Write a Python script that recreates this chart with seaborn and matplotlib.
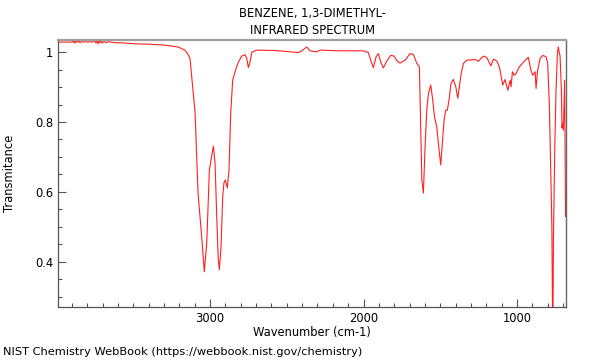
import matplotlib
matplotlib.use("Agg")
import matplotlib.pyplot as plt
import seaborn as sns
import pandas as pd
from matplotlib.ticker import MultipleLocator

title_lines = ["BENZENE, 1,3-DIMETHYL-", "INFRARED SPECTRUM"]
x_label = "Wavenumber (cm-1)"
y_label = "Transmitance"
footer = "NIST Chemistry WebBook (https://webbook.nist.gov/chemistry)"

wavenumber = [
    3990, 3944, 3899, 3892, 3886, 3879, 3873, 3866, 3860, 3853, 3847, 3834, 3821,
    3808, 3795, 3782, 3768, 3749, 3743, 3736, 3729, 3723, 3716, 3710, 3703, 3690,
    3677, 3664, 3619, 3573, 3488, 3391, 3293, 3208, 3163, 3143, 3130, 3110, 3097,
    3078, 3054, 3037, 3021, 3004, 2993, 2978, 2967, 2956, 2946, 2939, 2928, 2917,
    2909, 2900, 2887, 2876, 2865, 2852, 2837, 2815, 2793, 2772, 2761, 2750, 2739,
    2728, 2695, 2587, 2522, 2424, 2402, 2370, 2348, 2305, 2283, 2153, 2001, 1968,
    1953, 1936, 1918, 1903, 1888, 1871, 1849, 1823, 1801, 1780, 1762, 1729, 1697,
    1675, 1653, 1636, 1627, 1620, 1610, 1599, 1588, 1577, 1562, 1549, 1538, 1523,
    1510, 1497, 1486, 1475, 1464, 1454, 1443, 1430, 1415, 1399, 1386, 1376, 1364,
    1349, 1327, 1273, 1252, 1219, 1197, 1171, 1153, 1132, 1115, 1093, 1078, 1060,
    1045, 1039, 1030, 1019, 1006, 985, 947, 926, 910, 897, 882, 876, 867, 850, 832,
    811, 800, 789, 780, 773, 767, 763, 754, 746, 737, 731, 724, 720, 711, 707, 702,
    698, 690, 684,
]
transmittance = [
    1.029, 1.029, 1.029, 1.034, 1.026, 1.033, 1.027, 1.034, 1.029, 1.033, 1.027, 1.031, 1.029,
    1.030, 1.029, 1.030, 1.029, 1.033, 1.026, 1.034, 1.024, 1.033, 1.027, 1.034, 1.026, 1.031,
    1.027, 1.030, 1.027, 1.027, 1.024, 1.023, 1.020, 1.015, 1.006, 0.994, 0.982, 0.887, 0.826,
    0.597, 0.471, 0.371, 0.454, 0.663, 0.691, 0.731, 0.683, 0.529, 0.406, 0.377, 0.443, 0.586,
    0.626, 0.634, 0.611, 0.663, 0.826, 0.920, 0.944, 0.972, 0.989, 0.993, 0.983, 0.956, 0.972,
    1.000, 1.006, 1.005, 1.003, 0.999, 1.004, 1.015, 1.004, 1.001, 1.006, 1.004, 1.004, 0.999,
    0.977, 0.956, 0.987, 0.996, 0.972, 0.955, 0.974, 0.991, 0.989, 0.974, 0.969, 0.977, 0.996,
    0.994, 0.968, 0.958, 0.777, 0.634, 0.596, 0.729, 0.834, 0.882, 0.906, 0.863, 0.815, 0.787,
    0.729, 0.677, 0.740, 0.806, 0.834, 0.834, 0.863, 0.911, 0.922, 0.901, 0.868, 0.901, 0.939,
    0.968, 0.977, 0.979, 0.974, 0.989, 0.985, 0.961, 0.980, 0.975, 0.958, 0.906, 0.922, 0.891,
    0.920, 0.901, 0.944, 0.934, 0.939, 0.958, 0.977, 0.985, 0.949, 0.934, 0.944, 0.896, 0.944, 0.982, 0.991,
    0.987, 0.968, 0.844, 0.654, 0.500, 0.150, 0.463, 0.729, 0.891, 0.996, 1.015, 0.996, 0.991, 0.891, 0.783, 0.797,
    0.777, 0.920, 0.529,
]

df = pd.DataFrame({"wn": wavenumber, "T": transmittance})

sns.set_style("ticks")
plt.rcParams["font.family"] = ["DejaVu Sans"]
plt.rcParams["text.color"] = "black"
plt.rcParams["axes.labelcolor"] = "black"
plt.rcParams["xtick.color"] = "black"
plt.rcParams["ytick.color"] = "black"

fig = plt.figure(figsize=(6, 3.6), dpi=100)
ax = fig.add_axes([58 / 600, 1 - 307 / 360, (566 - 58) / 600, (307 - 40) / 360])

sns.lineplot(data=df, x="wn", y="T", sort=False, estimator=None, ax=ax,
             color="#ff2020", linewidth=0.8)

ax.set_xlim(3990, 681)
ax.set_ylim(0.27, 1.035)

ax.xaxis.set_major_locator(MultipleLocator(1000))
ax.xaxis.set_minor_locator(MultipleLocator(100))
ax.yaxis.set_minor_locator(MultipleLocator(0.05))
ax.set_yticks([0.4, 0.6, 0.8, 1.0])
ax.set_yticklabels(["0.4", "0.6", "0.8", "1"])

ax.tick_params(which="major", direction="in", length=6, width=0.8, color="#555555",
               labelsize=8.3, labelcolor="black", pad=3.5)
ax.tick_params(which="minor", direction="in", length=3, width=0.8, color="#555555")
ax.tick_params(top=False, right=False, which="both")

for s in ["left", "bottom"]:
    ax.spines[s].set_color("#555555")
    ax.spines[s].set_linewidth(0.9)
ax.spines["top"].set_visible(True)
ax.spines["top"].set_color("#a0a0a0")
ax.spines["top"].set_linewidth(1.6)
ax.spines["right"].set_visible(True)
ax.spines["right"].set_color("#666666")
ax.spines["right"].set_linewidth(1.0)

ax.set_xlabel(x_label, fontsize=8.3, labelpad=1)
ax.set_ylabel(y_label, fontsize=8.3)
ax.yaxis.set_label_coords(-0.083, 0.5)
ax.set_title("\n".join(title_lines), fontsize=8.3, pad=4, linespacing=1.45)

fig.text(3 / 600, 1 - 352 / 360, footer, fontsize=8.2, ha="left", va="center")

fig.savefig("out.png", dpi=100)
